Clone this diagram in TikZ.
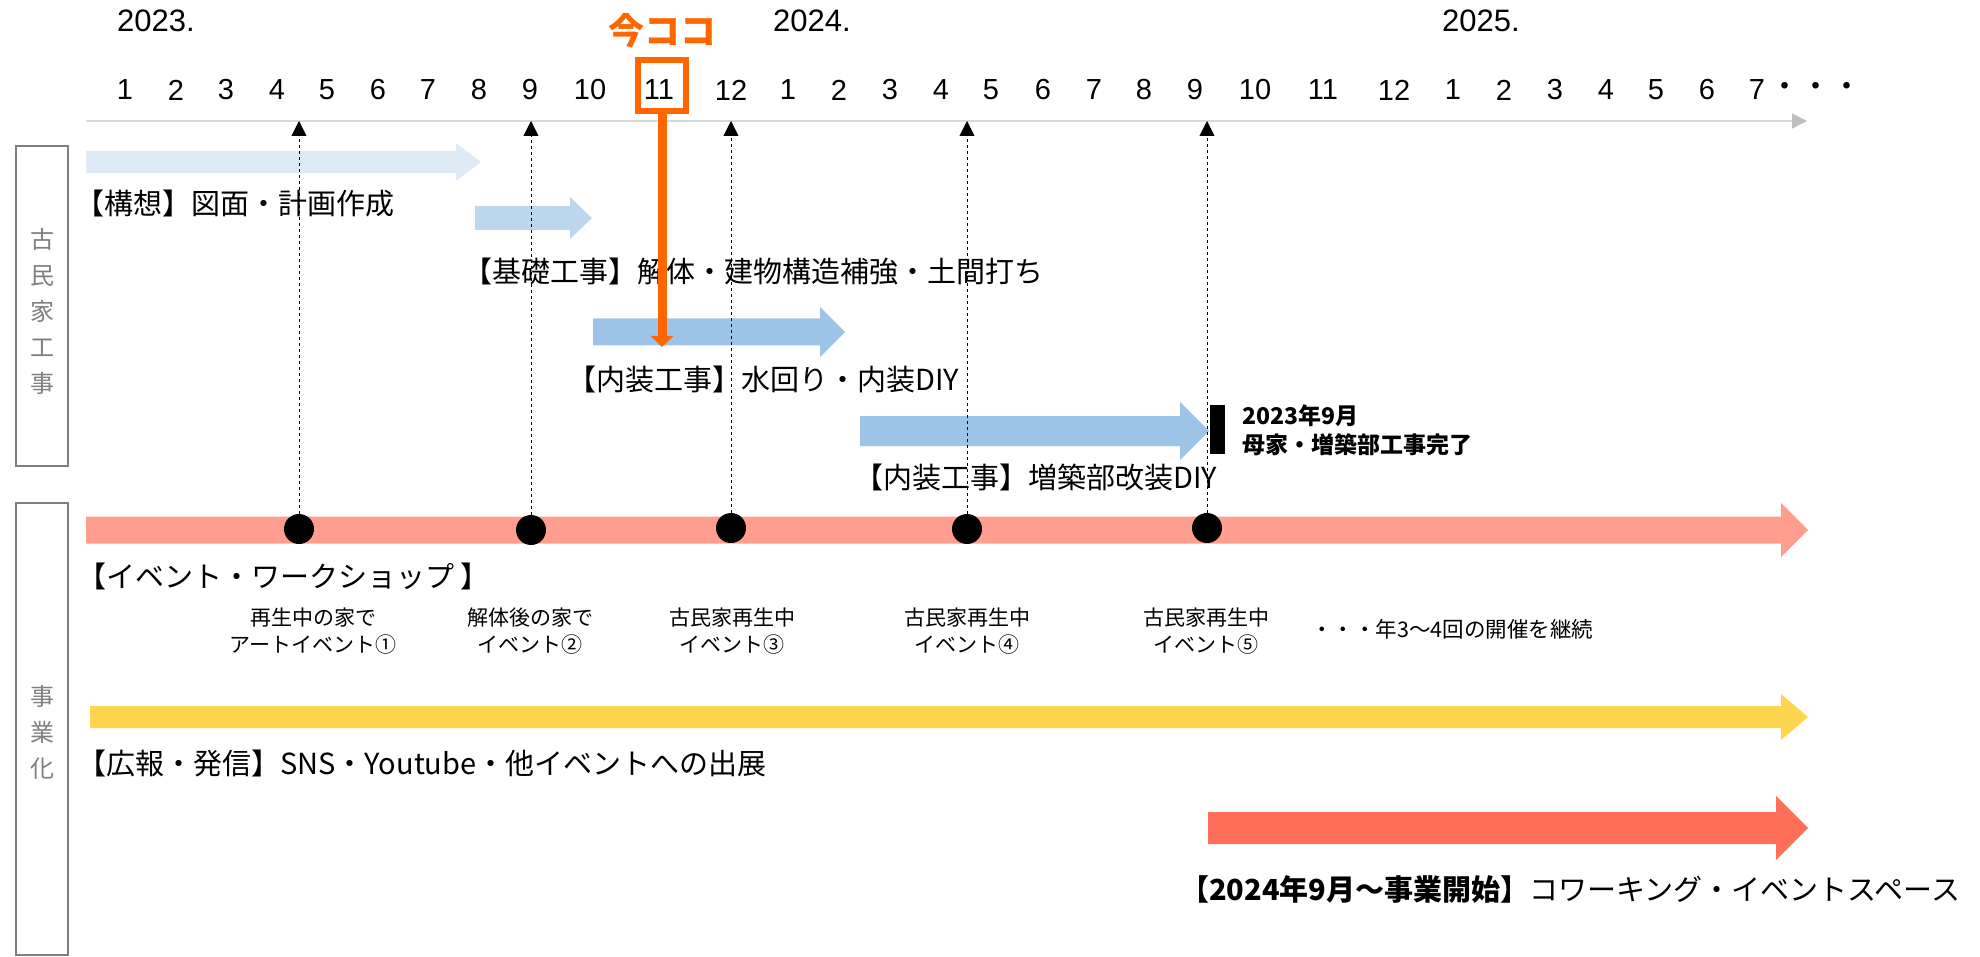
\documentclass[tikz,border=0pt]{standalone}
\usepackage{fontspec}
\setmainfont{Noto Sans CJK JP}
\newfontfamily\numfont{Liberation Sans}
\usetikzlibrary{arrows.meta}
\definecolor{lightA}{HTML}{DEEBF7}
\definecolor{lightB}{HTML}{BDD7EE}
\definecolor{midblue}{HTML}{9DC3E6}
\definecolor{salmon}{HTML}{FF9E8E}
\definecolor{yellowbar}{HTML}{FFD44F}
\definecolor{tomato}{HTML}{FF6E58}
\definecolor{orangec}{HTML}{FF6600}
\definecolor{axisc}{HTML}{D9D9D9}
\definecolor{axishead}{HTML}{BFBFBF}
\definecolor{catgrey}{HTML}{7F7F7F}
\newcommand{\blockarrow}[7]{\fill[#1] (#2,{#5-#6}) -- (#3,{#5-#6}) -- (#3,{#5-#7}) -- (#4,#5) -- (#3,{#5+#7}) -- (#3,{#5+#6}) -- (#2,{#5+#6}) -- cycle;}
\tikzset{
  mon/.style={inner sep=0pt, font=\numfont\fontsize{29}{34}\selectfont},
  yr/.style={inner sep=0pt, anchor=west, font=\numfont\fontsize{31}{36}\selectfont},
  lbl/.style={anchor=west, inner sep=0pt, font=\fontsize{29}{34}\selectfont},
  evt/.style={inner sep=0pt, align=center, font=\fontsize{21}{27}\selectfont},
  cat/.style={inner sep=0pt, align=center, text=catgrey, font=\fontsize{24}{36}\selectfont},
  catbox/.style={draw=catgrey, line width=2.5pt},
  dot/.style={circle, fill=black, minimum size=30pt, inner sep=0pt},
  conn/.style={draw=black, line width=0.8pt, dash pattern=on 3pt off 3pt, -{Triangle[width=15pt,length=15pt]}},
  axisline/.style={draw=axisc, line width=1.8pt, -{Triangle[width=15pt,length=15pt,color=axishead]}},
  nowarrow/.style={draw=orangec, line width=9pt, -{Triangle[width=22pt,length=11pt]}}
}
\begin{document}
\begin{tikzpicture}[x=1pt,y=-1pt]
\useasboundingbox (0,0) rectangle (1980,957);
% years
\node[yr] (y2023) at (117,21) {2023.};
\node[yr] (y2024) at (773,21) {2024.};
\node[yr] (y2025) at (1442,21) {2025.};
% months
\foreach \x/\t [count=\i] in {125/1,176/2,226/3,277/4,327/5,378/6,428/7,479/8,530/9,590/10,659/11,731/12,
  788/1,839/2,890/3,941/4,991/5,1043/6,1094/7,1144/8,1195/9,1255/10,1323/11,1394/12,
  1453/1,1504/2,1555/3,1606/4,1656/5,1707/6,1757/7}
  \node[mon] (m\i) at (\x,90) {\t};
\node[inner sep=0pt, font=\fontsize{31}{34}\selectfont] (mdots) at (1816,90) {・・・};
% axis
\coordinate (axL) at (86,121);
\coordinate (axR) at (1807,121);
\draw[axisline] (axL) -- (axR);
% category boxes
\draw[catbox] (16,146) rectangle (68,466);
\node[cat] (catA) at (42,311) {古\\民\\家\\工\\事};
\draw[catbox] (16,503) rectangle (68,955);
\node[cat] (catB) at (42,732) {事\\業\\化};
% bars
\blockarrow{lightA}{86}{456}{481}{162}{11}{19}
\blockarrow{lightB}{475}{570}{592}{218}{12}{21}
\blockarrow{midblue}{593}{820}{845}{332}{13.5}{25}
\blockarrow{midblue}{860}{1180}{1209}{431}{15}{29}
\blockarrow{salmon}{86}{1781}{1808}{530}{13.5}{27}
\blockarrow{yellowbar}{90}{1781}{1808}{717}{11}{23}
\blockarrow{tomato}{1208}{1776}{1808}{828}{16}{32}
% labels
\node[lbl] (t1) at (75,203) {【構想】図面・計画作成};
\node[lbl] (t2) at (463,272) {【基礎工事】解体・建物構造補強・土間打ち};
\node[lbl] (t3) at (567,379) {【内装工事】水回り・内装DIY};
\node[lbl] (t4) at (854,477) {【内装工事】増築部改装DIY};
\node[lbl] (t5) at (77,576) {【イベント・ワークショップ 】};
\node[lbl] (t6) at (77,763) {【広報・発信】SNS・Youtube・他イベントへの出展};
\node[lbl] (t7) at (1180,889) {{\bfseries 【2024年9月〜事業開始】}コワーキング・イベントスペース};
% milestone
\fill[black] (1210,405) rectangle (1225,454);
\node[anchor=west, inner sep=0pt, align=left, font=\bfseries\fontsize{23}{29}\selectfont] (ms) at (1242,430) {2023年9月\\母家・増築部工事完了};
% events
\node[evt] (e1) at (313,631) {再生中の家で\\アートイベント①};
\node[evt] (e2) at (530,631) {解体後の家で\\イベント②};
\node[evt] (e3) at (732,631) {古民家再生中\\イベント③};
\node[evt] (e4) at (967,631) {古民家再生中\\イベント④};
\node[evt] (e5) at (1206,631) {古民家再生中\\イベント⑤};
\node[anchor=west, inner sep=0pt, font=\fontsize{21.5}{27}\selectfont] (e6) at (1311,629) {・・・年3〜4回の開催を継続};
% dots and connectors
\node[dot] (d1) at (299,529) {};
\node[dot] (d2) at (531,530) {};
\node[dot] (d3) at (731,528) {};
\node[dot] (d4) at (967,529) {};
\node[dot] (d5) at (1207,528) {};
\foreach \i in {1,...,5} \draw[conn] (d\i) -- (d\i |- axL);
% now marker
\node[draw=orangec, line width=6pt, minimum width=48pt, minimum height=51pt, inner sep=0pt] (box11) at (662,85.5) {};
\node[inner sep=0pt, text=orangec, font=\bfseries\fontsize{36}{40}\selectfont] (now) at (662,31) {今ココ};
\coordinate (nowtip) at (662,347);
\draw[nowarrow] (box11.south) -- (nowtip);
\end{tikzpicture}
\end{document}
